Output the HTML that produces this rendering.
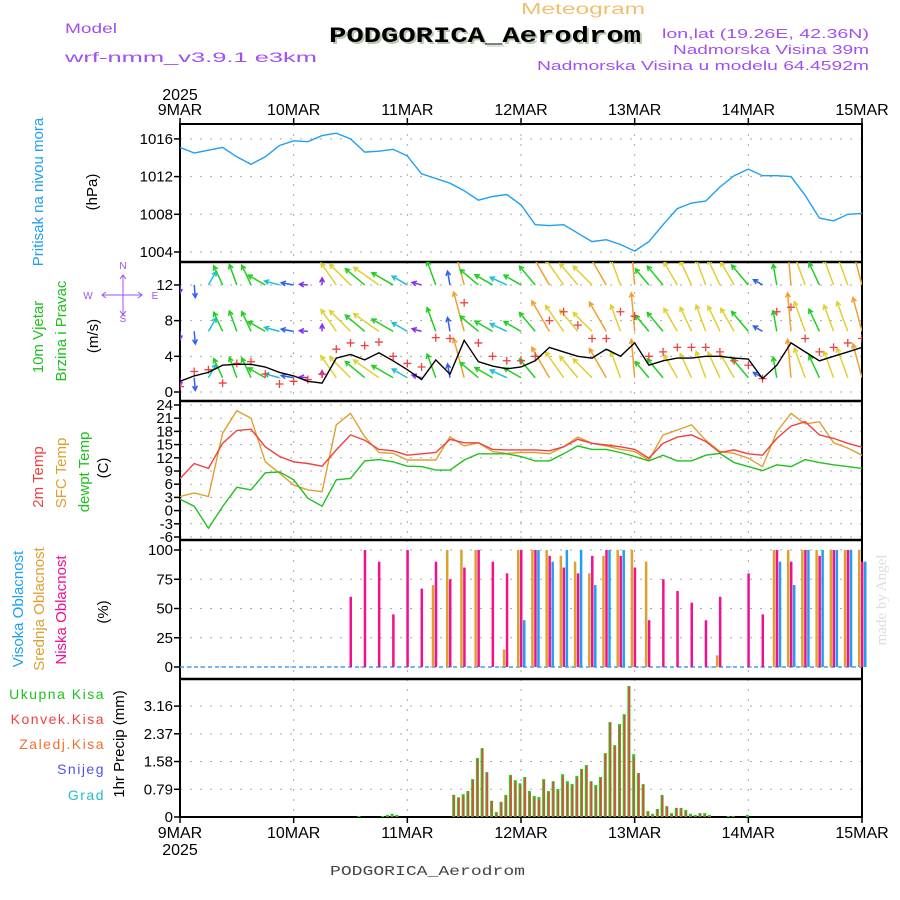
<!DOCTYPE html>
<html><head><meta charset="utf-8"><style>
html,body{margin:0;padding:0;background:#fff;}
svg{display:block;font-family:"Liberation Sans",sans-serif;}
</style></head><body>
<svg id="chart" width="900" height="900" viewBox="0 0 900 900" xmlns="http://www.w3.org/2000/svg">
<rect width="900" height="900" fill="#fff"/>
<text x="65" y="33" fill="#a050f0" font-size="14" textLength="52" lengthAdjust="spacingAndGlyphs">Model</text>
<text x="65" y="62" fill="#a050f0" font-size="14" textLength="252" lengthAdjust="spacingAndGlyphs">wrf-nmm_v3.9.1 e3km</text>
<text x="521" y="14" fill="#f0c070" font-size="16" textLength="124" lengthAdjust="spacingAndGlyphs">Meteogram</text>
<text x="331" y="44" fill="#b8c8b0" font-size="22" font-weight="bold" font-family="Liberation Mono, monospace" textLength="312" lengthAdjust="spacingAndGlyphs">PODGORICA_Aerodrom</text>
<text x="329" y="42" fill="#000" font-size="22" font-weight="bold" font-family="Liberation Mono, monospace" textLength="312" lengthAdjust="spacingAndGlyphs">PODGORICA_Aerodrom</text>
<text x="662" y="38" fill="#a050f0" font-size="13" textLength="207" lengthAdjust="spacingAndGlyphs">lon,lat (19.26E, 42.36N)</text>
<text x="673" y="54" fill="#a050f0" font-size="13" textLength="196" lengthAdjust="spacingAndGlyphs">Nadmorska Visina 39m</text>
<text x="537" y="70" fill="#a050f0" font-size="13" textLength="332" lengthAdjust="spacingAndGlyphs">Nadmorska Visina u modelu 64.4592m</text>
<text x="330" y="875" fill="#444" font-size="14" font-family="Liberation Mono, monospace" textLength="195" lengthAdjust="spacingAndGlyphs">PODGORICA_Aerodrom</text>
<text transform="translate(886,600) rotate(-90)" fill="#d8e0d8" font-size="15" text-anchor="middle" font-family="Liberation Serif, serif">made by Angel</text>
<g id="g"></g>
</svg>
<script>
const hours=[0,3,6,9,12,15,18,21,24,27,30,33,36,39,42,45,48,51,54,57,60,63,66,69,72,75,78,81,84,87,90,93,96,99,102,105,108,111,114,117,120,123,126,129,132,135,138,141,144];
const pressure=[1015.1,1014.5,1014.8,1015.1,1014.1,1013.3,1014.1,1015.3,1015.8,1015.7,1016.35,1016.6,1016.0,1014.6,1014.7,1014.9,1014.2,1012.3,1011.8,1011.3,1010.5,1009.5,1009.9,1010.1,1009.0,1006.9,1006.8,1006.9,1006.0,1005.1,1005.3,1004.8,1004.1,1005.1,1006.9,1008.6,1009.2,1009.4,1010.9,1012.1,1012.8,1012.1,1012.1,1012.0,1010.0,1007.6,1007.3,1008.0,1008.1];
const windSpeed=[1.2,1.8,2.2,3,3.1,3.1,2.8,2.2,1.8,1.2,1.0,3.8,4.2,3.6,4.4,3.5,2.5,1.4,3.6,2.0,5.8,3.4,2.9,2.6,2.8,3.5,5,4.5,4,3.8,4.8,4,5.5,3,3.5,3.8,3.8,4,4,3.8,3.7,1.5,3,5.5,4.5,3.5,4,4.5,5];
const windGust=[0.6,2.3,2.5,1.0,3.2,3.4,2,0.9,1.2,1.4,2.0,4.8,5.5,5.2,5.6,4,3.2,2.8,6.1,6,10,5.5,4,3.5,3.5,4,8,9,7.5,6,6,9,8.5,4,4.5,5,5,5,4.5,3.5,3,1.5,9,9.5,6,4.5,5,5.5,6];
const windDir=[270,275,60,115,110,115,150,165,170,175,90,125,135,140,145,150,150,165,110,100,105,140,150,155,150,130,120,125,130,135,120,110,95,130,130,120,115,110,115,120,130,150,100,95,110,115,110,110,105];
const temp2m=[7.3,10.7,9.6,15.3,18.2,18.5,14.5,12.3,11.1,10.7,10.1,13.8,17.2,16,13.9,13.6,12.6,12.9,13.2,16.2,15.4,15.4,13.9,13.8,13.8,13.8,13.6,14.5,16.2,15.3,14.9,14.5,13.9,11.9,15.3,16.7,17.2,15.7,13.2,13.8,12.9,12.6,16.4,19.2,20.2,17.2,16.4,15.3,14.4];
const tempSfc=[3.2,4,3.2,17.6,22.7,21,11.1,8.5,5.8,4.7,4.3,19.5,22.1,16.8,13.2,13,11.5,11.5,11.5,16.8,14.7,15.4,13.4,13,13.2,13.2,12.9,14.5,16.7,15.3,14.7,13.9,13.4,11.5,17.2,18.3,19.5,16,13.4,13,11.9,10,17.9,22.1,19.7,20.2,15.4,14.2,12.6];
const dewpoint=[2.6,1,-4,0.9,5.3,4.7,8.6,8.8,7,2.8,1,7,7.3,11.3,11.6,11.1,10.1,10,9.2,9.2,11.5,12.9,12.9,12.9,12.3,11.3,11.3,12.9,14.7,13.9,13.9,13.2,12.3,11.3,12.6,11.3,11.3,12.6,13,10.9,10,9.1,10.4,10,11.6,10.9,10.4,10,9.6];
const cloudLow=[0,0,0,0,0,0,0,0,0,0,0,0,60,100,90,45,100,67,90,75,85,100,90,80,100,100,95,85,80,95,100,95,85,40,75,65,55,40,60,0,80,45,100,90,100,95,100,100,90];
const cloudMid=[0,0,0,0,0,0,0,0,0,0,0,0,0,0,0,0,0,0,70,100,100,100,0,15,100,100,100,95,90,80,95,100,100,90,0,0,0,0,10,0,0,0,100,100,100,100,100,100,100];
const cloudHigh=[0,0,0,0,0,0,0,0,0,0,0,0,0,0,0,0,0,0,0,0,0,0,0,0,40,100,90,100,100,70,100,100,0,0,0,0,0,0,0,0,0,0,90,70,100,100,100,100,90];
const precipHours=[38,43,44,45,46,58,59,60,61,62,63,64,65,66,67,68,69,70,71,72,73,74,75,76,77,78,79,80,81,82,83,84,85,86,87,88,89,90,91,92,93,94,95,96,97,98,99,100,101,102,103,104,105,106,107,108,109,110,111,112,116,117,120];
const precipTotal=[0.03,0.03,0.06,0.09,0.06,0.63,0.56,0.65,0.74,1.08,1.68,1.96,1.28,0.46,0.14,0.43,0.63,1.2,1.05,0.96,1.14,0.74,0.6,0.57,1.08,0.74,1.02,0.8,1.22,1.02,0.94,1.17,1.37,1.48,1.02,0.91,1.14,1.82,2.7,2.05,2.65,2.93,3.73,1.79,1.25,0.94,0.17,0.09,0.23,0.63,0.31,0.11,0.26,0.26,0.2,0.09,0.06,0.11,0.11,0.06,0.03,0.03,0.06];
const precipConv=[0,0,0.02,0.03,0.02,0.63,0.55,0.6,0.74,1.05,1.65,1.96,1.25,0.46,0.1,0.43,0.6,1.15,1.0,0.9,1.1,0.7,0.55,0.5,1.05,0.7,1.0,0.75,1.15,0.95,0.9,1.1,1.35,1.45,1.0,0.85,1.1,1.8,2.7,2.0,2.6,2.9,3.73,1.7,1.25,0.9,0.15,0.05,0.2,0.6,0.3,0.08,0.25,0.25,0.15,0.05,0.03,0.1,0.05,0.03,0,0.02,0];
const dayLabels=["9MAR","10MAR","11MAR","12MAR","13MAR","14MAR","15MAR"];
const pTicks=[1004,1008,1012,1016];
const wTicks=[0,4,8,12];
const tTicks=[-6,-3,0,3,6,9,12,15,18,21,24];
const cTicks=[0,25,50,75,100];
const rTicks=[0,0.79,1.58,2.37,3.16];

const NS="http://www.w3.org/2000/svg";
const G=document.getElementById('g');
const L=180,R=862;
function el(tag,attrs,parent){const e=document.createElementNS(NS,tag);for(const k in attrs)e.setAttribute(k,attrs[k]);(parent||G).appendChild(e);return e;}
const X=h=>L+h*(R-L)/144;
const yP=v=>252-(v-1004)*37.7/4;
const yW=v=>392-v*8.92;
const yT=v=>537-(v+6)*4.4;
const yC=v=>667-v*1.17;
const yR=v=>817-v*35.1;
const panels=[[124,262,'pressure',pTicks,yP],[262,401,'wind',wTicks,yW],[401,540,'temperature',tTicks,yT],[540,679,'cloud',cTicks,yC],[679,817,'precip',rTicks,yR]];
panels.forEach(([t,b,nm,ticks,f])=>{
  const cp=el('clipPath',{id:'cp-'+nm},G);el('rect',{x:L,y:t,width:R-L,height:b-t},cp);
  const grid=el('g',{});
  
  
  for(let d=1;d<6;d++)el('line',{x1:X(d*24),x2:X(d*24),y1:t,y2:b,stroke:'#aaa','stroke-dasharray':'2 8'},grid);
  ticks.forEach(v=>{const y=f(v);
    if(y>t+2&&y<b-1)el('line',{x1:L,x2:R,y1:y,y2:y,stroke:'#aaa','stroke-dasharray':'2 8'},grid);
    el('line',{x1:L-6,x2:L,y1:y,y2:y,stroke:'#000','stroke-width':1.5});
    const tx=el('text',{x:L-7,y:y+5,'font-size':15,'text-anchor':'end',fill:'#000'});
    
    
    tx.textContent=String(v);
  });
});
el('rect',{x:L,y:124,width:R-L,height:693,fill:'none',stroke:'#000','stroke-width':2});
[262,401,540,679].forEach(y=>el('line',{x1:L,x2:R,y1:y,y2:y,stroke:'#000','stroke-width':2.5}));
dayLabels.forEach((d,i)=>{const x=X(i*24);
  [[115,-1],[838,1]].forEach(([y,dy])=>{
    const t=el('text',{x:x,y:y,'font-size':16,'text-anchor':'middle',fill:'#000'});
    
    
    t.textContent=d;
    el('line',{x1:x,x2:x,y1:dy<0?124:817,y2:dy<0?118:823,stroke:'#000','stroke-width':1.5});
  });
});
[[100],[855]].forEach(([y])=>{const t=el('text',{x:X(0),y:y,'font-size':16,'text-anchor':'middle',fill:'#000'});
 t.textContent='2025';});
function line(arr,f,col,nm,w){let d='';hours.forEach((h,i)=>{d+=(i?'L':'M')+X(h).toFixed(1)+','+f(arr[i]).toFixed(1);});
 return el('path',{d:d,fill:'none',stroke:col,'stroke-width':w||1.4,'clip-path':'url(#cp-'+nm+')'});}
const pl=line(pressure,yP,'#1ea0f0','pressure');

function wcol(v){return v<1.5?'#8030f0':v<2.2?'#3060f0':v<2.8?'#20c0d0':v<3.8?'#20d020':v<4.8?'#e0d030':v<6?'#f0a030':'#f01090';}
const wg=el('g',{'clip-path':'url(#cp-wind)'});

[12,6.8,1.6].forEach(base=>{
  hours.forEach((h,i)=>{const x0=X(h),y0=yW(base);const len=windSpeed[i]*7;const a=windDir[i]*Math.PI/180;
    const x1=x0+len*Math.cos(a),y1=y0-len*Math.sin(a);const c=wcol(windSpeed[i]);
    const ar=el('path',{d:`M${x0},${y0}L${x1},${y1}M${x1-5*Math.cos(a-0.5)},${y1+5*Math.sin(a-0.5)}L${x1},${y1}L${x1-5*Math.cos(a+0.5)},${y1+5*Math.sin(a+0.5)}`,stroke:c,'stroke-width':1.5,fill:'none'},wg);
    
  });
});
const gg=el('g',{'clip-path':'url(#cp-wind)'});

hours.forEach((h,i)=>{const x=X(h),y=yW(windGust[i]);
  const m=el('path',{d:`M${x-4},${y}H${x+4}M${x},${y-4}V${y+4}`,stroke:'#f04040','stroke-width':1.3},gg);
  });
const ws=line(windSpeed,yW,'#000','wind');
const t1=line(tempSfc,yT,'#e0a030','temperature');
const t2=line(temp2m,yT,'#f04040','temperature');
const t3=line(dewpoint,yT,'#20c020','temperature');
el('line',{x1:L,x2:R,y1:yC(0),y2:yC(0),stroke:'#40a0f0','stroke-width':1.5,'stroke-dasharray':'4 3'});
[[cloudMid,'#e0a030',-3,'mid-cloud-bar'],[cloudHigh,'#1ea0f0',3,'high-cloud-bar'],[cloudLow,'#f01090',0,'low-cloud-bar']].forEach(([arr,c,off,nm])=>{
  hours.forEach((h,i)=>{if(arr[i]<=0)return;const x=X(h)+off;
    const b=el('rect',{x:x-1,y:yC(arr[i]),width:2.5,height:yC(0)-yC(arr[i]),fill:c});
    });
});
precipHours.forEach((h,i)=>{const x=X(h);
  if(precipTotal[i]>0){const b=el('rect',{x:x-2.5,y:yR(precipTotal[i]),width:3,height:yR(0)-yR(precipTotal[i]),fill:'#20d020'});
    }
  if(precipConv[i]>0){const b=el('rect',{x:x-1.5,y:yR(precipConv[i]),width:1.6,height:yR(0)-yR(precipConv[i]),fill:'#f04040'});
    }
});
function rot(x,y,txt,col,nm,size){const t=el('text',{transform:`translate(${x},${y}) rotate(-90)`,'font-size':size||15,'text-anchor':'middle',fill:col});
 t.textContent=txt;}
rot(43,192,'Pritisak na nivou mora','#1ea0f0','pressure-title');
rot(97,192,'(hPa)','#000','pressure-unit');
rot(43,337,'10m Vjetar','#20c020','wind-title-1');
rot(66,331,'Brzina i Pravac','#20c020','wind-title-2');
rot(98,336,'(m/s)','#000','wind-unit');
rot(43,477,'2m Temp','#f04040','temp-2m-title');
rot(66,473,'SFC Temp','#e0a030','sfc-temp-title');
rot(89,472,'dewpt Temp','#20c020','dewpt-title');
rot(108,468,'(C)','#000','temp-unit');
rot(23,609,'Visoka Oblacnost','#1ea0f0','high-cloud-title');
rot(44,609,'Srednja Oblacnost','#e0a030','mid-cloud-title');
rot(66,610,'Niska Oblacnost','#f01090','low-cloud-title');
rot(108,612,'(%)','#000','cloud-unit');
rot(124,744,'1hr Precip (mm)','#000','precip-title');
[['Ukupna Kisa','#20c020',699],['Konvek.Kisa','#f04040',724],['Zaledj.Kisa','#f07030',749],['Snijeg','#5050f0',774],['Grad','#20c0c0',800]].forEach(([t,c,y])=>{
  const e=el('text',{x:105,y:y,'font-size':14,'text-anchor':'end',fill:c,'letter-spacing':1.5});
  e.textContent=t;});
const cg=el('g',{fill:'#a050f0','font-size':10,'text-anchor':'middle'});

[['N',123,269],['S',123,322],['W',88,299],['E',155,299]].forEach(([t,x,y])=>{const e=el('text',{x:x,y:y},cg);e.textContent=t;});
el('path',{d:'M102,295H142M123,275V315M106,292l-4,3 4,3M138,292l4,3-4,3M120,279l3,-4 3,4M120,311l3,4 3,-4',stroke:'#a050f0','stroke-width':1,fill:'none'},cg);
</script>
</body></html>
